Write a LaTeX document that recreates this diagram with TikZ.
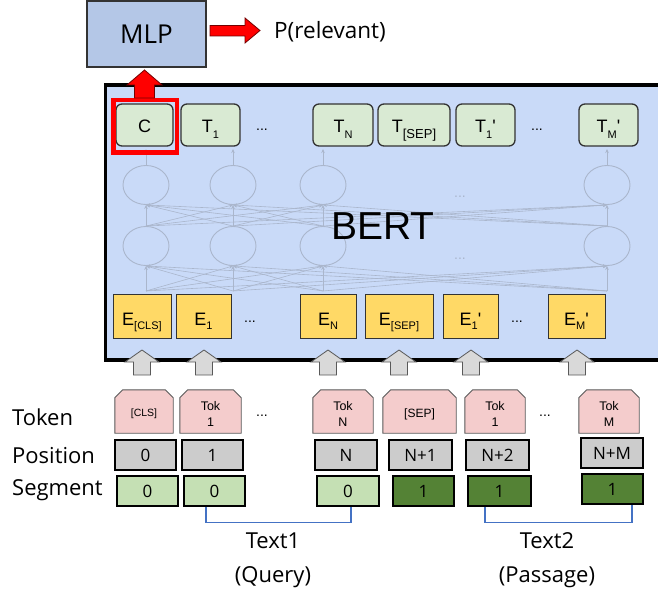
\documentclass[tikz,border=0pt]{standalone}
\usepackage{fontspec}
\setmainfont{Open Sans}
\newfontfamily\arial{Liberation Sans}
\usetikzlibrary{shapes.geometric,arrows.meta,calc}

\definecolor{framebg}{HTML}{C9DAF8}
\definecolor{mlpbg}{HTML}{B4C7E7}
\definecolor{tgreen}{HTML}{D9EAD3}
\definecolor{eyellow}{HTML}{FFD966}
\definecolor{tokred}{HTML}{F4CCCC}
\definecolor{posgray}{HTML}{CCCCCC}
\definecolor{seglight}{HTML}{C5E0B4}
\definecolor{segdark}{HTML}{548235}
\definecolor{netc}{RGB}{170,182,204}
\definecolor{bracketblue}{HTML}{4472C4}
\definecolor{arrgray}{HTML}{D9D9D9}

\newcommand\subx[2][-6pt]{\raisebox{#1}{\fontsize{11}{11}\selectfont #2}}
\newcommand\chamf[1]{\filldraw[fill=tokred, draw=black!65, line width=0.9pt]
  (#1.south west) -- ([yshift=-8pt]#1.north west) -- ([xshift=8pt]#1.north west)
  -- ([xshift=-8pt]#1.north east) -- ([yshift=-8pt]#1.north east) -- (#1.south east) -- cycle;}
\newcommand\garr[1]{\filldraw[blockgray] (#1,375) -- ++(-8.5,0) -- ++(0,-13) -- ++(-8.5,0)
  -- ++(17,-12) -- ++(17,12) -- ++(-8.5,0) -- ++(0,13) -- cycle;}

\tikzset{
  tbox/.style={draw=black!80, line width=1.3pt, fill=tgreen, rounded corners=6pt, inner sep=0pt,
    minimum height=42pt, text height=16pt, text depth=0pt, font=\arial\fontsize{18}{18}\selectfont},
  ebox/.style={draw=black!80, line width=1pt, fill=eyellow, inner sep=0pt,
    minimum height=43pt, text height=19pt, text depth=0pt, font=\arial\fontsize{18}{18}\selectfont},
  tokbox/.style={inner sep=0pt, minimum height=43pt},
  toktext/.style={inner sep=0pt, align=center, font=\arial\fontsize{12.5}{15.5}\selectfont},
  posbox/.style={draw=black, line width=1.6pt, fill=posgray, inner sep=0pt,
    minimum height=30pt, font=\fontsize{17}{17}\selectfont},
  segA/.style={posbox, fill=seglight},
  segB/.style={posbox, fill=segdark},
  rowlab/.style={anchor=west, inner sep=0pt, font=\fontsize{22}{22}\selectfont},
  dots/.style={inner sep=0pt, font=\arial\fontsize{14}{14}\selectfont},
  netell/.style={ellipse, draw=netc, line width=0.9pt, minimum width=46pt, minimum height=39pt, inner sep=0pt},
  netline/.style={draw=netc, line width=0.6pt, -{Stealth[length=4pt,width=3.5pt]}},
  blockgray/.style={fill=arrgray, draw=black!65, line width=0.8pt},
  blockred/.style={fill=red, draw=red!45!black, line width=0.8pt},
  bracket/.style={draw=bracketblue, line width=1.2pt},
  bigtext/.style={inner sep=0pt, align=center, font=\fontsize{22}{34}\selectfont},
}

\begin{document}
\begin{tikzpicture}[x=1pt,y=-1pt]
\useasboundingbox (0,0) rectangle (658,593);
\fill[white] (0,0) rectangle (658,593);

% MLP and output
\node[draw=black!80, line width=1.2pt, fill=mlpbg, minimum width=119pt, minimum height=66pt,
  inner sep=0pt, font=\fontsize{26}{26}\selectfont] (mlp) at (146.5,34) {MLP};
\node[anchor=west, inner sep=0pt, font=\fontsize{22.5}{22.5}\selectfont] (prel) at (274,32) {P(relevant)};
\filldraw[blockred] (210,25.5) -- (245,25.5) -- (245,18) -- (260,30.5) -- (245,43) -- (245,36)
  -- (210,36) -- cycle;

% BERT frame
\node[draw=black, line width=3.5pt, fill=framebg, minimum width=584.5pt, minimum height=275pt,
  inner sep=0pt] (bert) at (397.75,222.5) {};

% faded network
\foreach \i/\x in {1/146,2/233,3/323,4/607} {
  \node[netell] (nt\i) at (\x,185) {};
  \node[netell] (nb\i) at (\x,246) {};
  \coordinate (ns\i) at (\x,291);
  \coordinate (nd\i) at (\x,149);
}
\foreach \i in {1,...,4} {
  \foreach \j in {1,...,4} {
    \draw[netline] (ns\i) -- (nb\j.south);
    \draw[netline] (nb\i.north) -- (nt\j.south);
  }
  \draw[netline] (nt\i.north) -- (nd\i);
}
\node[dots, text=netc] (nd1t) at (460,197) {...};
\node[dots, text=netc] (nd2t) at (460,259) {...};
\node[inner sep=0pt, font=\arial\fontsize{39}{39}\selectfont] (berttxt) at (383,226) {BERT};

% output tokens
\node[tbox, minimum width=57pt] (c) at (144.5,125) {C};
\node[tbox, minimum width=59pt] (t1) at (210.5,125) {T\subx{1}};
\node[dots] (td1) at (262,130) {...};
\node[tbox, minimum width=60pt] (tn) at (343,125) {T\subx{N}};
\node[tbox, minimum width=72pt] (tsep) at (414,125) {T\raisebox{-6pt}{\fontsize{13}{13}\selectfont[SEP]}};
\node[tbox, minimum width=59pt] (t1p) at (485.5,125) {T\subx{1}'};
\node[dots] (td2) at (537,130) {...};
\node[tbox, minimum width=59pt] (tmp) at (608.5,125) {T\subx{M}'};

\node[draw=red, line width=4.5pt, minimum width=63.5pt, minimum height=52.5pt, inner sep=0pt]
  (redbox) at (145,126.5) {};
\filldraw[blockred] (134.5,98) -- (134.5,85) -- (127,85) -- (144.5,70) -- (162,85) -- (154.5,85)
  -- (154.5,98) -- cycle;

% embeddings
\node[ebox, minimum width=58pt] (ecls) at (142,316.5) {E\subx[-4pt]{[CLS]}};
\node[ebox, minimum width=55pt] (e1) at (203.5,316.5) {E\subx[-4pt]{1}};
\node[dots] (ed1) at (250,322) {...};
\node[ebox, minimum width=56pt] (en) at (328,316.5) {E\subx[-4pt]{N}};
\node[ebox, minimum width=68pt] (esep) at (399,316.5) {E\subx[-4pt]{[SEP]}};
\node[ebox, minimum width=55pt] (e1p) at (470.5,316.5) {E\subx[-4pt]{1}'};
\node[dots] (ed2) at (517,322) {...};
\node[ebox, minimum width=57pt] (emp) at (576.5,316.5) {E\subx[-4pt]{M}'};

% gray input arrows
\garr{142}
\garr{204}
\garr{328}
\garr{399}
\garr{471}
\garr{577}

% token row
\node[tokbox, minimum width=58pt] (k1) at (144,411.5) {};
\node[tokbox, minimum width=61pt] (k2) at (210.5,411.5) {};
\node[tokbox, minimum width=60pt] (k3) at (343,411.5) {};
\node[tokbox, minimum width=73pt] (k4) at (419.5,411.5) {};
\node[tokbox, minimum width=60pt] (k5) at (495,411.5) {};
\node[tokbox, minimum width=60pt] (k6) at (609,411.5) {};
\chamf{k1}\chamf{k2}\chamf{k3}\chamf{k4}\chamf{k5}\chamf{k6}
\node[toktext, font=\arial\fontsize{10.5}{12}\selectfont] (k1t) at (144,414) {[CLS]};
\node[toktext] (k2t) at (210.5,414) {Tok\\1};
\node[dots] (kd1) at (262,416) {...};
\node[toktext] (k3t) at (343,414) {Tok\\N};
\node[toktext, font=\arial\fontsize{12}{12}\selectfont] (k4t) at (419.5,414) {[SEP]};
\node[toktext] (k5t) at (495,414) {Tok\\1};
\node[dots] (kd2) at (545,416) {...};
\node[toktext] (k6t) at (609,414) {Tok\\M};

% position row
\node[posbox, minimum width=61pt] (p1) at (145.5,455) {0};
\node[posbox, minimum width=61pt] (p2) at (212.5,455) {1};
\node[posbox, minimum width=62pt] (p3) at (346,455) {N};
\node[posbox, minimum width=63pt] (p4) at (420.5,455) {N+1};
\node[posbox, minimum width=63pt] (p5) at (497.5,455) {N+2};
\node[posbox, minimum width=62pt] (p6) at (612,453) {N+M};

% segment row
\node[segA, minimum width=61pt] (s1) at (147.5,491) {0};
\node[segA, minimum width=61pt] (s2) at (214.5,491) {0};
\node[segA, minimum width=62pt] (s3) at (348,491) {0};
\node[segB, minimum width=61pt] (s4) at (423.5,491) {1};
\node[segB, minimum width=63pt] (s5) at (499.5,491) {1};
\node[segB, minimum width=61pt] (s6) at (612.5,489) {1};

% row labels
\node[rowlab] (lt) at (12,417) {Token};
\node[rowlab] (lp) at (12,456) {Position};
\node[rowlab] (ls) at (12,490) {Segment};

% brackets
\draw[bracket] ([xshift=-8.5pt]s2.south) -- ++(0,16) -| ([xshift=3pt]s3.south);
\draw[bracket] ([xshift=-14.5pt]s5.south) |- ([xshift=19.5pt,yshift=-18pt]s6.south) -- ([xshift=19.5pt]s6.south);

\node[bigtext] (text1) at (273,560) {Text1\\(Query)};
\node[bigtext] (text2) at (547,560) {Text2\\(Passage)};
\end{tikzpicture}
\end{document}
